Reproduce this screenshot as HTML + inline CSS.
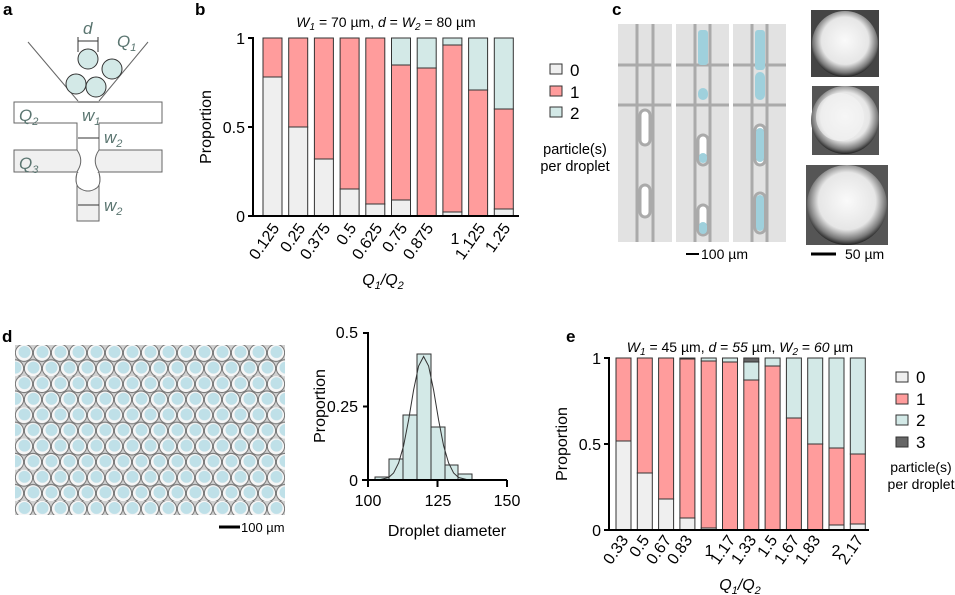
<!DOCTYPE html>
<html><head><meta charset="utf-8"><style>
body{margin:0;background:#fff}
svg{display:block;font-family:"Liberation Sans",Arial,sans-serif}
</style></head><body>
<svg width="955" height="595" viewBox="0 0 955 595" xmlns="http://www.w3.org/2000/svg">
<defs>
<pattern id="drops" x="15" y="345" width="18" height="31.2" patternUnits="userSpaceOnUse">
<rect width="18" height="31.2" fill="#d0d0d0"/>
<circle cx="9" cy="7.8" r="8.6" fill="#f6f6f6" stroke="#777" stroke-width="1"/>
<circle cx="9.5" cy="7" r="6" fill="#bfe0e8"/>
<circle cx="0" cy="23.4" r="8.6" fill="#f6f6f6" stroke="#777" stroke-width="1"/>
<circle cx="18" cy="23.4" r="8.6" fill="#f6f6f6" stroke="#777" stroke-width="1"/>
<circle cx="0.5" cy="22.6" r="6" fill="#bfe0e8"/>
<circle cx="18.5" cy="22.6" r="6" fill="#bfe0e8"/>
</pattern>
<radialGradient id="bead" cx="50%" cy="45%" r="55%">
<stop offset="0" stop-color="#fafafa"/><stop offset="0.65" stop-color="#e6e6e6"/><stop offset="0.88" stop-color="#777"/><stop offset="1" stop-color="#222"/>
</radialGradient>
</defs>
<g font-weight="bold" font-size="17" fill="#000">
<text x="3" y="15">a</text><text x="195" y="15">b</text><text x="612" y="15">c</text><text x="2" y="342">d</text><text x="566" y="342">e</text>
</g>

<!-- panel a -->
<g stroke="#666" stroke-width="1" fill="none">
<line x1="28" y1="42" x2="78" y2="101"/><line x1="148" y1="42" x2="99" y2="101"/>
<path d="M14 102 H162 V123 H99 V150 H162 V172 H99 Q92 178 99 190 V221 H77 V190 Q84 178 77 172 H14 V150 H77 V123 H14 Z" fill="#fff"/>
<path d="M14 150 H77 Q84 160 78 170 L77 172 H14 Z" fill="#f0f0f0"/>
<path d="M162 150 H99 Q92 160 98 170 L99 172 H162 Z" fill="#f0f0f0"/>
<path d="M77 173 Q74 183 80 188 Q88 194 96 188 Q102 183 99 173 V221 H77 Z" fill="#f0f0f0"/>
<path d="M77 173 Q74 186 81 189 Q88 193 95 189 Q102 186 99 173" fill="#fff"/>
</g>
<g fill="#d3e9e7" stroke="#333" stroke-width="1">
<circle cx="88" cy="59" r="10"/><circle cx="112" cy="69" r="10"/><circle cx="76" cy="84" r="10"/><circle cx="96" cy="87" r="10"/>
</g>
<g stroke="#333" stroke-width="1">
<line x1="78" y1="41" x2="98" y2="41"/><line x1="78" y1="37" x2="78" y2="52"/><line x1="98" y1="37" x2="98" y2="52"/>
<line x1="78" y1="102" x2="99" y2="102"/><line x1="78" y1="138" x2="99" y2="138"/><line x1="78" y1="205" x2="99" y2="205"/>
</g>
<g font-style="italic" font-size="17" fill="#5a7570">
<text x="83" y="34">d</text><text x="117" y="47">Q<tspan font-size="11" dy="4">1</tspan></text>
<text x="19" y="121">Q<tspan font-size="11" dy="4">2</tspan></text><text x="82" y="121">w<tspan font-size="11" dy="4">1</tspan></text>
<text x="104" y="143">w<tspan font-size="11" dy="4">2</tspan></text>
<text x="19" y="169">Q<tspan font-size="11" dy="4">3</tspan></text>
<text x="104" y="211">w<tspan font-size="11" dy="4">2</tspan></text>
</g>

<!-- panel b -->
<text x="386" y="27" font-size="14" text-anchor="middle"><tspan font-style="italic">W</tspan><tspan font-size="10" dy="3" font-style="italic">1</tspan><tspan dy="-3"> = 70 µm, </tspan><tspan font-style="italic">d</tspan> = <tspan font-style="italic">W</tspan><tspan font-size="10" dy="3" font-style="italic">2</tspan><tspan dy="-3">  = 80 µm</tspan></text>
<g stroke="#333" stroke-width="1">
<rect x="263" y="77" width="19" height="139" fill="#efefef"/><rect x="263" y="38" width="19" height="39" fill="#ff9c9c"/>
<rect x="288.7" y="127" width="19" height="89" fill="#efefef"/><rect x="288.7" y="38" width="19" height="89" fill="#ff9c9c"/>
<rect x="314.4" y="159" width="19" height="57" fill="#efefef"/><rect x="314.4" y="38" width="19" height="121" fill="#ff9c9c"/>
<rect x="340.1" y="189" width="19" height="27" fill="#efefef"/><rect x="340.1" y="38" width="19" height="151" fill="#ff9c9c"/>
<rect x="365.8" y="204" width="19" height="12" fill="#efefef"/><rect x="365.8" y="38" width="19" height="166" fill="#ff9c9c"/>
<rect x="391.5" y="200" width="19" height="16" fill="#efefef"/><rect x="391.5" y="65" width="19" height="135" fill="#ff9c9c"/><rect x="391.5" y="38" width="19" height="27" fill="#d3e9e7"/>
<rect x="417.2" y="68" width="19" height="148" fill="#ff9c9c"/><rect x="417.2" y="38" width="19" height="30" fill="#d3e9e7"/>
<rect x="442.9" y="212" width="19" height="4" fill="#efefef"/><rect x="442.9" y="45" width="19" height="167" fill="#ff9c9c"/><rect x="442.9" y="38" width="19" height="7" fill="#d3e9e7"/>
<rect x="468.6" y="90" width="19" height="126" fill="#ff9c9c"/><rect x="468.6" y="38" width="19" height="52" fill="#d3e9e7"/>
<rect x="494.3" y="209" width="19" height="7" fill="#efefef"/><rect x="494.3" y="109" width="19" height="100" fill="#ff9c9c"/><rect x="494.3" y="38" width="19" height="71" fill="#d3e9e7"/>
</g>
<g stroke="#000" stroke-width="2" fill="none">
<path d="M248 38 H253 V216 H519 M248 127 H253 M248 216 H253"/>
</g>
<g font-size="16" text-anchor="end">
<text x="245" y="44">1</text><text x="245" y="133">0.5</text><text x="245" y="222">0</text>
</g>
<text transform="translate(211,127) rotate(-90)" font-size="16" text-anchor="middle">Proportion</text>
<g font-size="16" text-anchor="end">
<text transform="translate(280,228) rotate(-55)">0.125</text>
<text transform="translate(306,228) rotate(-55)">0.25</text>
<text transform="translate(331,228) rotate(-55)">0.375</text>
<text transform="translate(357,228) rotate(-55)">0.5</text>
<text transform="translate(383,228) rotate(-55)">0.625</text>
<text transform="translate(408,228) rotate(-55)">0.75</text>
<text transform="translate(434,228) rotate(-55)">0.875</text>
<text x="455" y="244" text-anchor="middle">1</text>
<text transform="translate(486,228) rotate(-55)">1.125</text>
<text transform="translate(511,228) rotate(-55)">1.25</text>
</g>
<text x="383" y="285" font-size="16" text-anchor="middle" font-style="italic">Q<tspan font-size="11" dy="4">1</tspan><tspan dy="-4">/Q</tspan><tspan font-size="11" dy="4">2</tspan></text>
<g stroke="#333" stroke-width="1">
<rect x="550" y="64" width="12" height="10" fill="#efefef"/><rect x="550" y="86" width="12" height="10" fill="#ff9c9c"/><rect x="550" y="107" width="12" height="10" fill="#d3e9e7"/>
</g>
<g font-size="17"><text x="570" y="76">0</text><text x="570" y="98">1</text><text x="570" y="119">2</text></g>
<g font-size="14.5" text-anchor="middle"><text x="575" y="154">particle(s)</text><text x="575" y="171">per droplet</text></g>

<!-- panel c -->
<g>
<rect x="618" y="24" width="54" height="218" fill="#e2e2e2"/>
<rect x="676" y="24" width="53" height="218" fill="#e2e2e2"/>
<rect x="733" y="24" width="53" height="218" fill="#e2e2e2"/>
<g stroke="#aaa" stroke-width="3" fill="none">
<path d="M618 65 H671 M618 105 H671 M676 65 H729 M676 105 H729 M733 65 H786 M733 105 H786"/>
<path d="M637 24 V242 M653 24 V242 M695 24 V242 M710 24 V242 M752 24 V242 M767 24 V242"/>
</g>
<g fill="#fff" stroke="#aaa" stroke-width="3">
<rect x="640" y="110" width="10" height="35" rx="5"/><rect x="640" y="185" width="10" height="32" rx="5"/>
<rect x="698" y="135" width="10" height="30" rx="5"/><rect x="698" y="205" width="10" height="30" rx="5"/>
<rect x="755" y="125" width="10" height="40" rx="5"/><rect x="755" y="193" width="10" height="40" rx="5"/>
</g>
<g fill="#9fd0dc">
<rect x="698" y="30" width="10" height="35" rx="3"/><rect x="698" y="88" width="10" height="12" rx="5"/><rect x="699" y="153" width="8" height="10" rx="4"/><rect x="699" y="222" width="8" height="12" rx="4"/>
<rect x="755" y="30" width="10" height="40" rx="3"/><rect x="755" y="72" width="10" height="28" rx="5"/><rect x="756" y="128" width="8" height="34" rx="4"/><rect x="756" y="195" width="8" height="36" rx="4"/>
</g>
<rect x="811" y="10" width="68" height="67" fill="#444"/><circle cx="845" cy="44" r="33" fill="url(#bead)"/>
<rect x="812" y="86" width="67" height="69" fill="#555"/><circle cx="845" cy="120" r="34" fill="url(#bead)"/><circle cx="840" cy="117" r="24" fill="#f4f4f4" opacity="0.6"/>
<rect x="806" y="165" width="82" height="80" fill="#555"/><circle cx="847" cy="205" r="40" fill="url(#bead)"/>
<line x1="686" y1="254" x2="699" y2="254" stroke="#000" stroke-width="2"/>
<text x="701" y="259" font-size="14">100 µm</text>
<line x1="811" y1="254" x2="836" y2="254" stroke="#000" stroke-width="3"/>
<text x="845" y="259" font-size="14">50 µm</text>
</g>

<!-- panel d -->
<rect x="15" y="345" width="270" height="170" fill="url(#drops)"/>
<line x1="219" y1="527" x2="240" y2="527" stroke="#000" stroke-width="3"/>
<text x="241" y="532" font-size="13">100 µm</text>
<g stroke="#333" stroke-width="1" fill="#d3e9e7">
<rect x="375" y="477" width="14" height="3"/><rect x="389" y="459" width="14" height="21"/><rect x="403" y="415" width="14" height="65"/>
<rect x="417" y="354" width="14" height="126"/><rect x="431" y="427" width="14" height="53"/><rect x="445" y="465" width="13" height="15"/><rect x="458" y="474" width="14" height="6"/>
</g>
<path d="M378.6 480 L388.6 477.5 L393.6 473 L398.6 463 L403.6 445.7 L408.6 420 L413.6 390 L418.6 366 L423.6 356.5 L428.6 366 L433.6 390 L438.6 420 L443.6 445.7 L448.6 463 L453.6 473 L458.6 477.5 L468.6 480" fill="none" stroke="#333" stroke-width="1"/>
<path d="M363 333 H368 V480 M363 406.5 H368 M362 480 H507 M368 480 V487 M437.5 480 V487 M507 480 V487" stroke="#000" stroke-width="2" fill="none"/>
<g font-size="16" text-anchor="end"><text x="358" y="338">0.5</text><text x="358" y="412">0.25</text><text x="358" y="486">0</text></g>
<g font-size="16" text-anchor="middle"><text x="368" y="506">100</text><text x="438" y="506">125</text><text x="507" y="506">150</text>
<text x="447" y="536">Droplet diameter</text></g>
<text transform="translate(325,406) rotate(-90)" font-size="16" text-anchor="middle">Proportion</text>

<!-- panel e -->
<text x="740" y="352" font-size="14" text-anchor="middle"><tspan font-style="italic">W</tspan><tspan font-size="10" dy="3" font-style="italic">1</tspan><tspan dy="-3"> = 45 µm, </tspan><tspan font-style="italic">d</tspan> = <tspan font-style="italic">55</tspan> µm, <tspan font-style="italic">W</tspan><tspan font-size="10" dy="3" font-style="italic">2</tspan><tspan dy="-3">  = </tspan><tspan font-style="italic">60</tspan> µm</text>
<g stroke="#333" stroke-width="1">
<rect x="616" y="441" width="15" height="89" fill="#efefef"/><rect x="616" y="358" width="15" height="83" fill="#ff9c9c"/>
<rect x="637.3" y="473" width="15" height="57" fill="#efefef"/><rect x="637.3" y="358" width="15" height="115" fill="#ff9c9c"/>
<rect x="658.6" y="499" width="15" height="31" fill="#efefef"/><rect x="658.6" y="358" width="15" height="141" fill="#ff9c9c"/>
<rect x="679.9" y="518" width="15" height="12" fill="#efefef"/><rect x="679.9" y="359" width="15" height="159" fill="#ff9c9c"/><rect x="679.9" y="358" width="15" height="1" fill="#666"/>
<rect x="701.2" y="528" width="15" height="2" fill="#efefef"/><rect x="701.2" y="361" width="15" height="167" fill="#ff9c9c"/><rect x="701.2" y="358" width="15" height="3" fill="#d3e9e7"/>
<rect x="722.5" y="362" width="15" height="168" fill="#ff9c9c"/><rect x="722.5" y="358" width="15" height="4" fill="#d3e9e7"/>
<rect x="743.8" y="380" width="15" height="150" fill="#ff9c9c"/><rect x="743.8" y="362" width="15" height="18" fill="#d3e9e7"/><rect x="743.8" y="358" width="15" height="4" fill="#666"/>
<rect x="765.1" y="366" width="15" height="164" fill="#ff9c9c"/><rect x="765.1" y="358" width="15" height="8" fill="#d3e9e7"/>
<rect x="786.4" y="418" width="15" height="112" fill="#ff9c9c"/><rect x="786.4" y="358" width="15" height="60" fill="#d3e9e7"/>
<rect x="807.7" y="444" width="15" height="86" fill="#ff9c9c"/><rect x="807.7" y="358" width="15" height="86" fill="#d3e9e7"/>
<rect x="829" y="525" width="15" height="5" fill="#efefef"/><rect x="829" y="448" width="15" height="77" fill="#ff9c9c"/><rect x="829" y="358" width="15" height="90" fill="#d3e9e7"/>
<rect x="850.3" y="524" width="15" height="6" fill="#efefef"/><rect x="850.3" y="454" width="15" height="70" fill="#ff9c9c"/><rect x="850.3" y="358" width="15" height="96" fill="#d3e9e7"/>
</g>
<path d="M604 358 H609 V530 H869 M604 444 H609 M604 530 H609" stroke="#000" stroke-width="2" fill="none"/>
<g font-size="16" text-anchor="end"><text x="601" y="364">1</text><text x="601" y="450">0.5</text><text x="601" y="536">0</text></g>
<text transform="translate(567,444) rotate(-90)" font-size="16" text-anchor="middle">Proportion</text>
<g font-size="16" text-anchor="end">
<text transform="translate(629,540) rotate(-55)">0.33</text>
<text transform="translate(650,540) rotate(-55)">0.5</text>
<text transform="translate(672,540) rotate(-55)">0.67</text>
<text transform="translate(693,540) rotate(-55)">0.83</text>
<text x="709" y="556" text-anchor="middle">1</text>
<text transform="translate(736,540) rotate(-55)">1.17</text>
<text transform="translate(757,540) rotate(-55)">1.33</text>
<text transform="translate(778,540) rotate(-55)">1.5</text>
<text transform="translate(800,540) rotate(-55)">1.67</text>
<text transform="translate(821,540) rotate(-55)">1.83</text>
<text x="836" y="556" text-anchor="middle">2</text>
<text transform="translate(864,540) rotate(-55)">2.17</text>
</g>
<text x="740" y="590" font-size="16" text-anchor="middle" font-style="italic">Q<tspan font-size="11" dy="4">1</tspan><tspan dy="-4">/Q</tspan><tspan font-size="11" dy="4">2</tspan></text>
<g stroke="#333" stroke-width="1">
<rect x="896" y="372" width="12" height="10" fill="#efefef"/><rect x="896" y="394" width="12" height="10" fill="#ff9c9c"/><rect x="896" y="415" width="12" height="10" fill="#d3e9e7"/><rect x="896" y="437" width="12" height="10" fill="#666"/>
</g>
<g font-size="17"><text x="916" y="383">0</text><text x="916" y="405">1</text><text x="916" y="426">2</text><text x="916" y="448">3</text></g>
<g font-size="14" text-anchor="middle"><text x="921" y="472">particle(s)</text><text x="921" y="489">per droplet</text></g>
</svg>
</body></html>
